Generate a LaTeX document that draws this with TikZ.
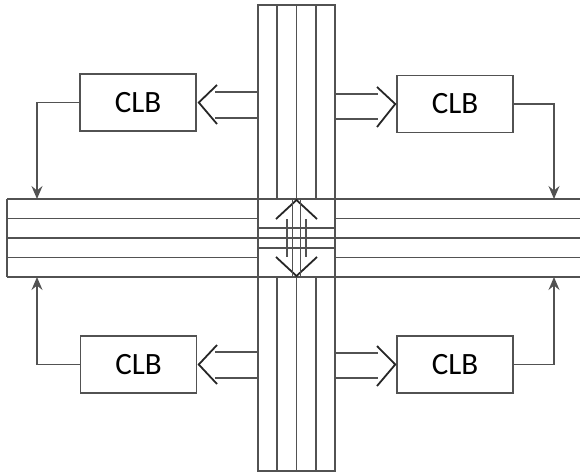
\documentclass[tikz,border=0pt]{standalone}
\usepackage{fontspec}
\setmainfont{Carlito}
\usetikzlibrary{arrows.meta}
\begin{document}
\begin{tikzpicture}[x=1pt,y=-1pt,
  line/.style={draw=black!68, line width=1.5pt},
  clb/.style={line, rectangle, minimum width=116pt, minimum height=57pt, inner sep=0pt, font=\fontsize{31}{33}\selectfont, text=black},
  wire/.style={line, -{Stealth[length=13pt,width=11pt,inset=4.5pt]}},
  fat/.style={line},
  chev/.style={draw=black!85, line width=1.8pt, line join=miter}]
\useasboundingbox (0,0) rectangle (580,472);

% CLB nodes
\node[clb] (TL) at (138,102.5) {CLB};
\node[clb] (TR) at (455,104) {CLB};
\node[clb] (BL) at (138.5,364.5) {CLB};
\node[clb] (BR) at (455,364.5) {CLB};

% horizontal bus
\draw[line] (7,199) -- (580,199);
\draw[line] (7,277) -- (580,277);
\draw[line] (7,238) -- (580,238);
\draw[line] (7,218.5) -- (258,218.5);
\draw[line] (335,218.5) -- (580,218.5);
\draw[line] (7,257.5) -- (258,257.5);
\draw[line] (335,257.5) -- (580,257.5);
\draw[line] (7,199) -- (7,277);

% vertical bus
\draw[line] (258,5) rectangle (335,471);
\draw[line] (277,5) -- (277,199);
\draw[line] (277,277) -- (277,471);
\draw[line] (316,5) -- (316,199);
\draw[line] (316,277) -- (316,471);
\draw[line] (296.5,5) -- (296.5,200);
\draw[line] (296.5,276) -- (296.5,471);

% switch box interior
\draw[line] (258,228) -- (335,228);
\draw[line] (258,248) -- (335,248);
\coordinate (ST) at (296.5,200);
\coordinate (SB) at (296.5,276);
\draw[chev] (276,219) -- (ST) -- (317,219);
\draw[chev] (276,257) -- (SB) -- (317,257);
\draw[line] (292.5,200) -- (292.5,276);
\draw[line] (300.5,200) -- (300.5,276);
\draw[line] (287,219) -- (287,257);
\draw[line] (306,219) -- (306,257);

% fat arrows bus -> CLB
\coordinate (tlA) at (258,92); \coordinate (tlB) at (258,118);
\draw[fat] (tlA) -- (215,92);
\draw[fat] (tlB) -- (215,118);
\draw[chev] (217,85) -- ([xshift=2pt]TL.east) -- (217,124);

\coordinate (trA) at (335,94); \coordinate (trB) at (335,119);
\draw[fat] (trA) -- (378,94);
\draw[fat] (trB) -- (378,119);
\draw[chev] (377,87) -- ([xshift=-1pt]TR.west) -- (377,127);

\coordinate (blA) at (258,352); \coordinate (blB) at (258,378);
\draw[fat] (blA) -- (215,352);
\draw[fat] (blB) -- (215,378);
\draw[chev] (217,345) -- ([xshift=1.5pt]BL.east) -- (217,384);

\coordinate (brA) at (335,353); \coordinate (brB) at (335,378);
\draw[fat] (brA) -- (378,353);
\draw[fat] (brB) -- (378,378);
\draw[chev] (377,346) -- ([xshift=-1pt]BR.west) -- (377,386);

% thin wires CLB -> horizontal bus
\coordinate (hTL) at (37,199);
\coordinate (hTR) at (554,199);
\coordinate (hBL) at (37,277);
\coordinate (hBR) at (554,277);
\draw[wire] (TL.west) -| (hTL);
\draw[wire] (TR.east) -| (hTR);
\draw[wire] (BL.west) -| (hBL);
\draw[wire] (BR.east) -| (hBR);
\end{tikzpicture}
\end{document}
